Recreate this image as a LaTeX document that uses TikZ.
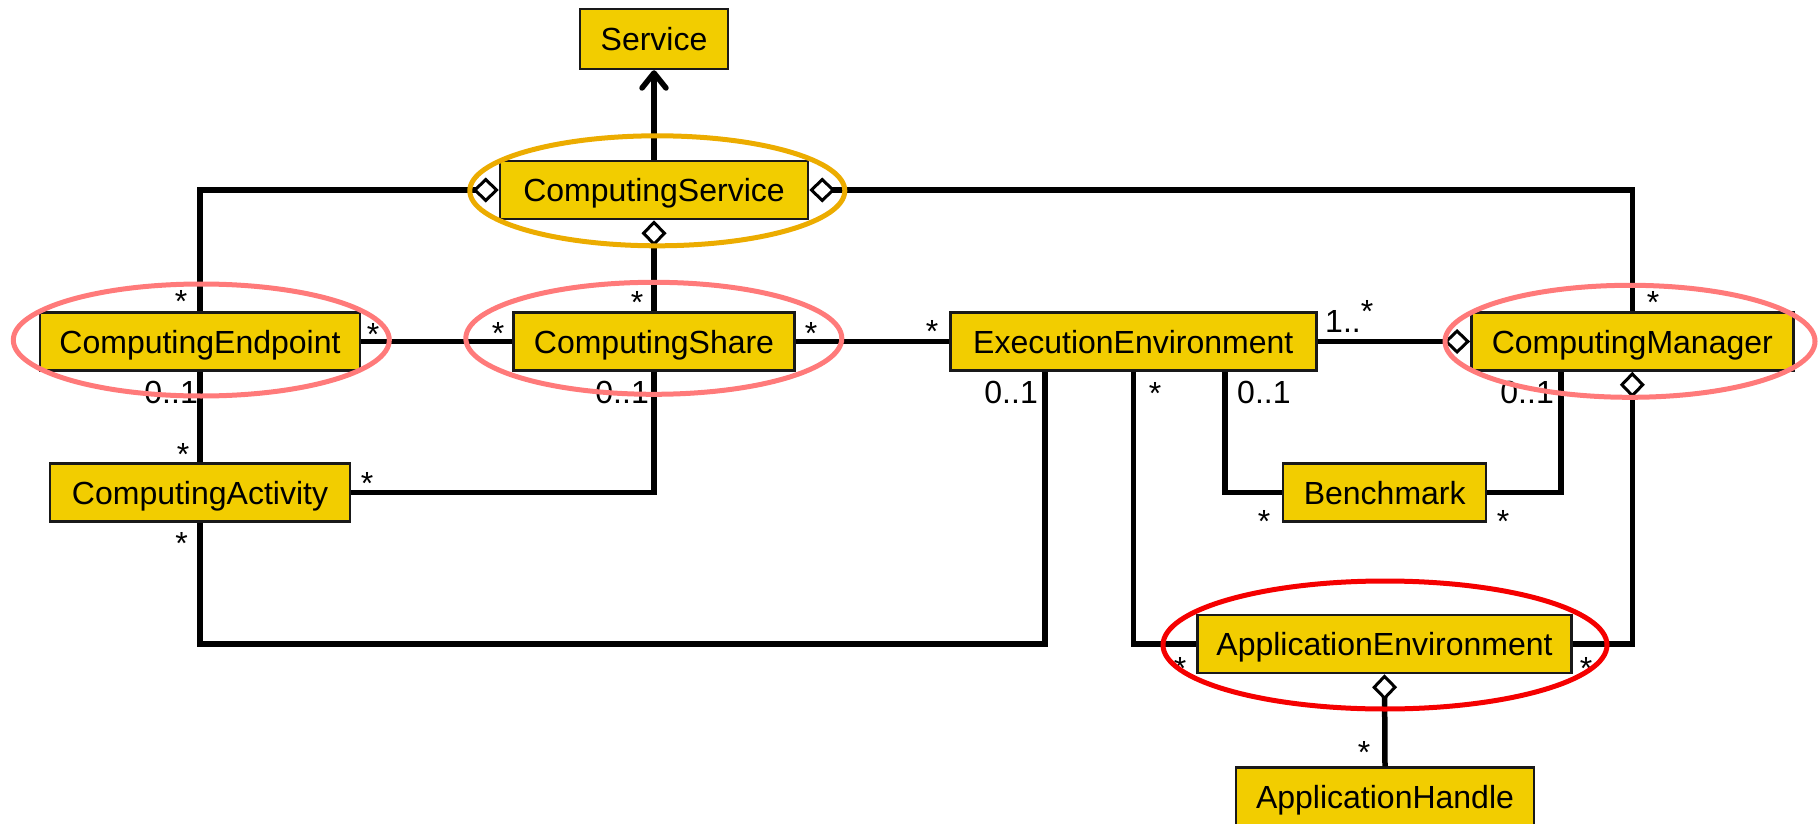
\documentclass[tikz,border=0pt]{standalone}
\usepackage{fontspec}
\setmainfont{Liberation Sans}
\usetikzlibrary{arrows.meta}
\definecolor{boxfill}{RGB}{242,205,0}
\definecolor{ellorange}{RGB}{236,172,0}
\definecolor{ellpink}{RGB}{255,122,122}
\definecolor{ellred}{RGB}{245,0,0}
\begin{document}
\begin{tikzpicture}[x=1pt,y=-1pt,
  cls/.style={draw=black!90, line width=2.5pt, fill=boxfill, inner sep=0pt,
    minimum height=58pt, text height=23pt, text depth=0pt,
    font=\fontsize{32}{38}\selectfont},
  conn/.style={line width=5.5pt},
  dia/.tip={Diamond[fill=white, length=26pt, width=25pt, line width=3pt]},
  agg/.style={conn, dia-},
  aggend/.style={conn, -dia},
  lbl/.style={inner sep=0pt, font=\fontsize{32}{38}\selectfont},
  hl/.style={line width=5pt}
]
\useasboundingbox (0,0) rectangle (1820,824);

% classes
\node[cls, minimum width=148pt, minimum height=60pt] (SV) at (654,39) {Service};
\node[cls, minimum width=308pt] (CS) at (654,190) {ComputingService};
\node[cls, minimum width=320pt] (CE) at (200,341.5) {ComputingEndpoint};
\node[cls, minimum width=281pt] (SH) at (654,341.5) {ComputingShare};
\node[cls, minimum width=366pt] (EE) at (1133.3,341.5) {ExecutionEnvironment};
\node[cls, minimum width=322pt] (CM) at (1632.3,341.5) {ComputingManager};
\node[cls, minimum width=300pt] (CA) at (200,492.5) {ComputingActivity};
\node[cls, minimum width=203pt] (BM) at (1384.7,492.5) {Benchmark};
\node[cls, minimum width=374pt] (AE) at (1384.5,644) {ApplicationEnvironment};
\node[cls, minimum width=298pt] (AH) at (1385,796.5) {ApplicationHandle};

\coordinate (eeA) at ([xshift=-88.3pt]EE.south);
\coordinate (eeC) at ([xshift=91.7pt]EE.south);
\coordinate (cmA) at ([xshift=-71.3pt]CM.south);

% connectors
\draw[conn, -{Straight Barb[length=15pt, width=24pt, round]}] (CS.north) -- (SV.south);
\draw[agg] (CS.west) -| (CE.north);
\draw[agg] (CS.east) -| (CM.north);
\draw[agg] (CS.south) -- (SH.north);
\draw[conn] (CE.east) -- (SH.west);
\draw[conn] (SH.east) -- (EE.west);
\draw[aggend] (EE.east) -- (CM.west);
\draw[conn] (CE.south) -- (CA.north);
\draw[conn] (CA.east) -| (SH.south);
\draw[conn] (CA.south) |- (eeA |- AE.west) -- (eeA);
\draw[conn] (EE.south) |- (AE.west);
\draw[conn] (eeC) |- (BM.west);
\draw[conn] (BM.east) -| (cmA);
\draw[agg] (CM.south) |- (AE.east);
\draw[agg] (AE.south) -- (AH.north);

% multiplicities
\node[lbl, anchor=north] (m1) at (181,290) {*};
\node[lbl, anchor=north] (m2) at (373,323) {*};
\node[lbl, anchor=north] (m3) at (498,322) {*};
\node[lbl, anchor=north] (m4) at (637,291) {*};
\node[lbl, anchor=north] (m5) at (811,322) {*};
\node[lbl, anchor=north] (m6) at (932,320) {*};
\node[lbl, anchor=base west] (m7) at (1325,332) {1..\raisebox{10pt}{*}};
\node[lbl, anchor=north] (m8) at (1653,291) {*};
\node[lbl, anchor=base east] (m9) at (198,403) {0..1};
\node[lbl, anchor=base east] (m10) at (649,403) {0..1};
\node[lbl, anchor=base east] (m11) at (1038,403) {0..1};
\node[lbl, anchor=north] (m12) at (1155,382) {*};
\node[lbl, anchor=base west] (m13) at (1237,403) {0..1};
\node[lbl, anchor=base east] (m14) at (1554,403) {0..1};
\node[lbl, anchor=north] (m15) at (183,443) {*};
\node[lbl, anchor=north] (m16) at (367,472) {*};
\node[lbl, anchor=north] (m17) at (181.5,532) {*};
\node[lbl, anchor=north] (m18) at (1264,510) {*};
\node[lbl, anchor=north] (m19) at (1503,510) {*};
\node[lbl, anchor=north] (m20) at (1180,657) {*};
\node[lbl, anchor=north] (m21) at (1586,657) {*};
\node[lbl, anchor=north] (m22) at (1364,741) {*};

% highlight ellipses
\draw[hl, ellorange] (657.3,190.8) ellipse [x radius=187.5pt, y radius=55pt];
\draw[hl, ellpink] (201.3,340) ellipse [x radius=188pt, y radius=56pt];
\draw[hl, ellpink] (653.8,338.3) ellipse [x radius=188pt, y radius=56pt];
\draw[hl, ellpink] (1630,341.3) ellipse [x radius=185pt, y radius=56pt];
\draw[hl, ellred] (1385,645) ellipse [x radius=222pt, y radius=64pt];
\end{tikzpicture}
\end{document}
